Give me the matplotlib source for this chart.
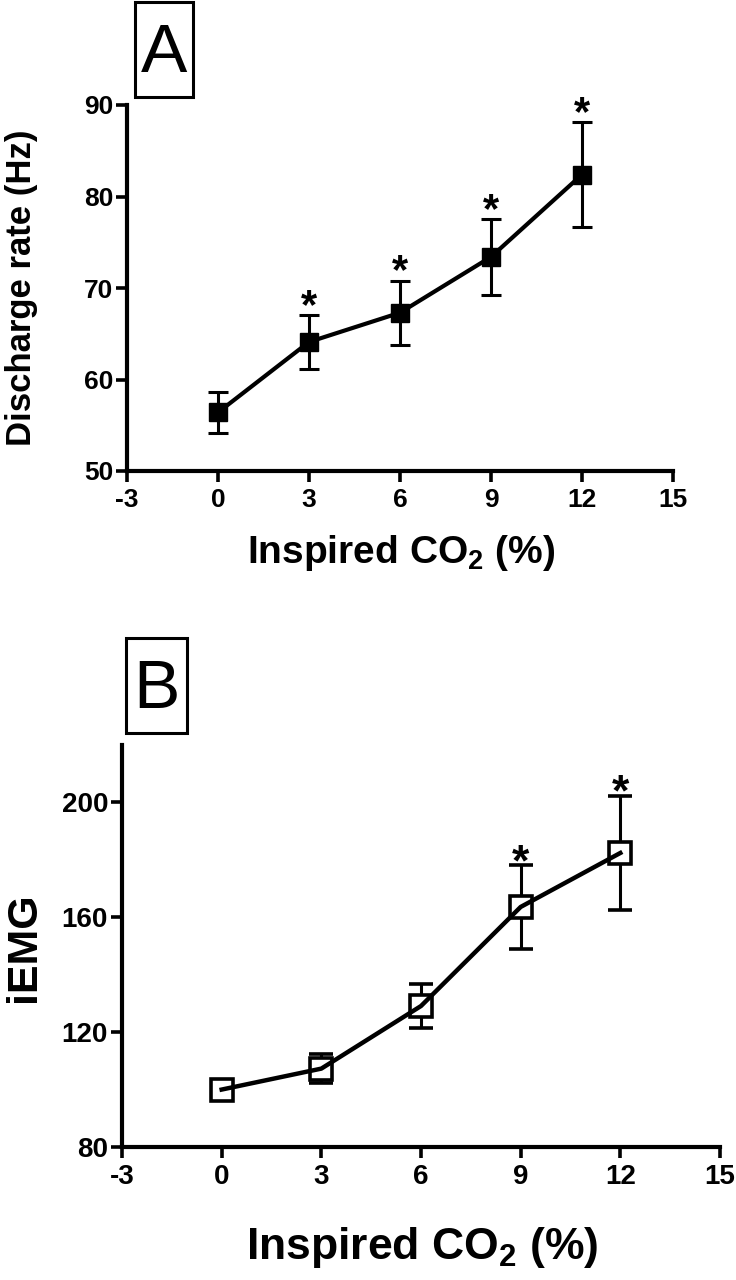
#
# Discharge rate and iEMG versus inspired CO2, two stacked panels.
#

import matplotlib
matplotlib.use('Agg')
import matplotlib.pyplot as plt
from matplotlib.patches import Rectangle

plt.rcParams['font.family'] = ['Liberation Sans', 'DejaVu Sans']
plt.rcParams['font.weight'] = 'bold'
plt.rcParams['axes.unicode_minus'] = False
plt.rcParams['mathtext.fontset'] = 'custom'
plt.rcParams['mathtext.rm'] = 'Liberation Sans:bold'
plt.rcParams['mathtext.default'] = 'rm'

# data (mean +/- SEM)
co2 = [0, 3, 6, 9, 12]

rate_mean = [56.4, 64.1, 67.3, 73.4, 82.4]
rate_err = [2.25, 2.9, 3.5, 4.15, 5.75]
rate_sig = [False, True, True, True, True]

iemg_mean = [100.0, 107.3, 129.1, 163.6, 182.4]
iemg_err = [1.5, 5.0, 7.6, 14.5, 20.0]
iemg_sig = [False, False, False, True, True]

x_ticks = [-3, 0, 3, 6, 9, 12, 15]
rate_ticks = [50, 60, 70, 80, 90]
iemg_ticks = [80, 120, 160, 200]

W, H = 736, 1280
fig = plt.figure(figsize=(W / 100, H / 100), dpi=100)


def px_axes(left, top, right, bottom):
    return fig.add_axes([left / W, 1 - bottom / H, (right - left) / W, (bottom - top) / H])


def style(ax, tick_size):
    for s in ['top', 'right']:
        ax.spines[s].set_visible(False)
    for s in ['left', 'bottom']:
        ax.spines[s].set_linewidth(3.0)
    ax.tick_params(direction='out', length=8, width=2.6, labelsize=tick_size)
    ax.tick_params(axis='x', pad=4)
    ax.tick_params(axis='y', pad=2)
    for lab in ax.get_xticklabels() + ax.get_yticklabels():
        lab.set_fontweight('bold')


def panel_letter(text, left, top, right, bottom, baseline):
    fig.patches.append(Rectangle((left / W, 1 - bottom / H), (right - left) / W, (bottom - top) / H,
                                 transform=fig.transFigure, fill=False, lw=2.2, ec='black'))
    fig.text((left + right) / 2 / W, 1 - baseline / H, text, ha='center', va='baseline',
             fontsize=50, fontweight='normal')


# panel A
ax1 = px_axes(127, 105, 673, 471)
ax1.errorbar(co2, rate_mean, yerr=rate_err, color='black', lw=3, elinewidth=2.2,
             capsize=7.5, capthick=2.2, marker='s', markersize=13, mfc='black', mec='black')
ax1.set_xlim(-3, 15)
ax1.set_ylim(50, 90)
ax1.set_xticks(x_ticks)
ax1.set_yticks(rate_ticks)
style(ax1, 19)
for x, m, e, s in zip(co2, rate_mean, rate_err, rate_sig):
    if s:
        ax1.annotate('*', (x, m + e), xytext=(0, -2), textcoords='offset points',
                     ha='center', va='baseline', fontsize=30, fontweight='bold')

fig.text(22 / W, 1 - 288 / H, 'Discharge rate (Hz)', rotation=90, ha='center', va='center',
         fontsize=25, fontweight='bold')
fig.text(401 / W, 1 - 553 / H, 'Inspired CO$_2$ (%)', ha='center', va='center',
         fontsize=28, fontweight='bold')
panel_letter('A', 135, 2, 193, 97, 72)

# panel B
ax2 = px_axes(122, 745, 720, 1147)
ax2.errorbar(co2, iemg_mean, yerr=iemg_err, color='black', lw=0, elinewidth=2.2,
             capsize=8.3, capthick=2.2, marker='s', markersize=16, mfc='white', mec='black',
             mew=2.6, zorder=2)
ax2.plot(co2, iemg_mean, color='black', lw=3.2, zorder=3)
ax2.set_xlim(-3, 15)
ax2.set_ylim(80, 220)
ax2.set_xticks(x_ticks)
ax2.set_yticks(iemg_ticks)
style(ax2, 20)
for x, m, e, s in zip(co2, iemg_mean, iemg_err, iemg_sig):
    if s:
        ax2.annotate('*', (x, m + e), xytext=(0, -7), textcoords='offset points',
                     ha='center', va='baseline', fontsize=32, fontweight='bold')

fig.text(24 / W, 1 - 947 / H, 'iEMG', rotation=90, ha='center', va='center',
         fontsize=31, fontweight='bold')
fig.text(422 / W, 1 - 1247 / H, 'Inspired CO$_2$ (%)', ha='center', va='center',
         fontsize=32, fontweight='bold')
panel_letter('B', 126, 638, 187, 733, 708)

fig.savefig('out.png', dpi=100)
